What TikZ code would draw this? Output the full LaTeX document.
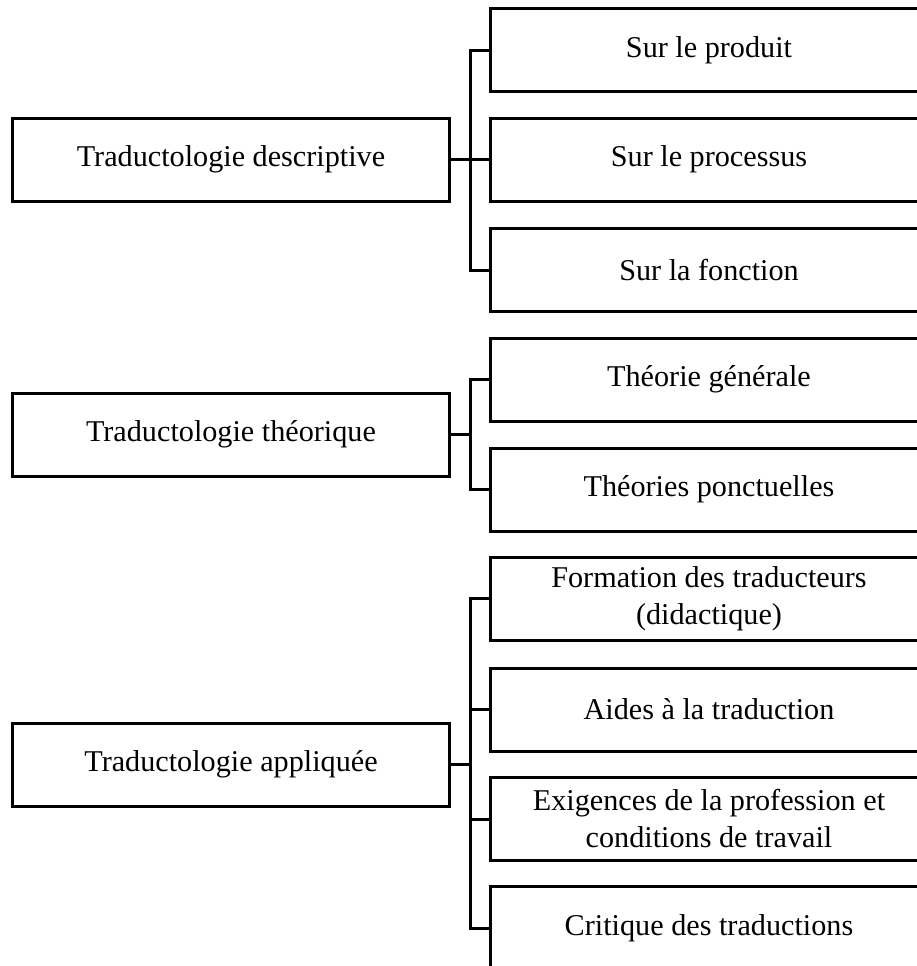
\documentclass[tikz,border=0pt]{standalone}
\usepackage{fontspec}
\setmainfont{Liberation Serif}
\usetikzlibrary{calc}

\begin{document}
\begin{tikzpicture}[x=0.5bp, y=-0.5bp,
    bloc/.style={draw, line width=1.5bp, rectangle, minimum width=218bp,
        minimum height=41.5bp, inner sep=0pt, outer sep=0pt, align=center,
        font=\fontsize{15.1bp}{18.5bp}\selectfont},
    lien/.style={line width=1.5bp}]
    \useasboundingbox (0,0) rectangle (917,966);
    \clip (0,0) rectangle (917,966);

    \node[bloc] (desc) at (231, 159.5) {Traductologie descriptive};
    \node[bloc] (theo) at (231, 434.5) {Traductologie th\'eorique};
    \node[bloc] (appl) at (231, 764.5) {Traductologie appliqu\'ee};

    \node[bloc] (prod) at (709, 50) {Sur le produit};
    \node[bloc] (proc) at (709, 159.5) {Sur le processus};
    \node[bloc] (fonc) at (709, 270) {Sur la fonction};

    \node[bloc] (gen) at (709, 379.5) {Th\'eorie g\'en\'erale};
    \node[bloc] (ponc) at (709, 489.5) {Th\'eories ponctuelles};

    \node[bloc] (form) at (709, 598.5) {Formation des traducteurs\\(didactique)};
    \node[bloc] (aide) at (709, 709.5) {Aides \`a la traduction};
    \node[bloc] (exig) at (709, 819) {Exigences de la profession et\\conditions de travail};
    \node[bloc] (crit) at (709, 928) {Critique des traductions};

    \coordinate (dos) at (470, 0);

    % descriptive
    \draw[lien] (prod.west) -- (prod.west -| dos) |- (fonc.west);
    \draw[lien] (desc.east) -- (proc.west);

    % theorique
    \draw[lien] (gen.west) -- (gen.west -| dos) |- (ponc.west);
    \draw[lien] (theo.east) -- (theo.east -| dos);

    % appliquee
    \draw[lien] (form.west) -- (form.west -| dos) |- (crit.west);
    \draw[lien] (aide.west) -- (aide.west -| dos);
    \draw[lien] (exig.west) -- (exig.west -| dos);
    \draw[lien] (appl.east) -- (appl.east -| dos);
\end{tikzpicture}
\end{document}
